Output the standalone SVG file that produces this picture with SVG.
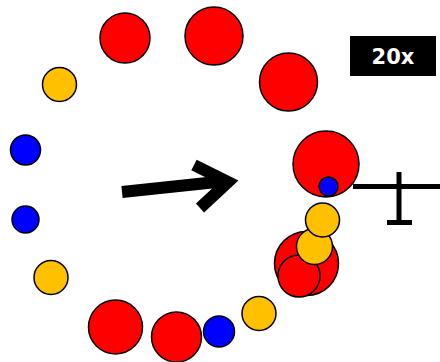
<svg xmlns="http://www.w3.org/2000/svg" width="440" height="362" viewBox="0 0 440 362">
<style>
.c{stroke:#000;stroke-width:1.5}
.r{fill:#ff0000}
.o{fill:#ffc000}
.b{fill:#0000ff}
.ln{stroke:#000;fill:none}
</style>
<rect width="440" height="362" fill="#fff"/>
<g id="circles">
<circle id="r1" class="c r" cx="125" cy="38" r="25"/>
<circle id="r2" class="c r" cx="214" cy="36" r="29"/>
<circle id="r3" class="c r" cx="288.5" cy="82" r="29"/>
<circle id="o1" class="c o" cx="59.5" cy="84.5" r="17"/>
<circle id="b1" class="c b" cx="25.5" cy="150" r="15"/>
<circle id="b2" class="c b" cx="25.5" cy="219.5" r="13.5"/>
<circle id="o2" class="c o" cx="51" cy="277.5" r="17"/>
<circle id="r4" class="c r" cx="115.5" cy="327" r="27"/>
<circle id="r5" class="c r" cx="176.5" cy="337" r="25"/>
<circle id="b3" class="c b" cx="219" cy="331.5" r="15.5"/>
<circle id="o3" class="c o" cx="259" cy="313.5" r="17"/>
<circle id="r6" class="c r" cx="326" cy="164" r="33"/>
<circle id="b4" class="c b" cx="328.5" cy="186.5" r="9.5"/>
<circle id="r7" class="c r" cx="306.5" cy="263.5" r="32"/>
<circle id="r8" class="c r" cx="299" cy="276" r="21"/>
<circle id="o5" class="c o" cx="314.5" cy="246.5" r="18"/>
<circle id="o4" class="c o" cx="322.5" cy="220" r="17"/>
</g>
<g id="connectors">
<path class="ln" stroke-width="12" d="M122 192 L226 181"/>
<path class="ln" stroke-width="12" stroke-linejoin="miter" d="M194 165 L228 182 L200 208"/>
</g>
<g id="scalebar">
<path class="ln" stroke-width="5" d="M353 186.5 H440 M399 172 V222 M387 222.5 H412"/>
</g>
<g id="label">
<rect x="350" y="36" width="86" height="40" fill="#000"/>
<text x="393" y="64" text-anchor="middle" font-family="DejaVu Sans, sans-serif" font-weight="bold" font-size="21" fill="#fff">20x</text>
</g>
</svg>
